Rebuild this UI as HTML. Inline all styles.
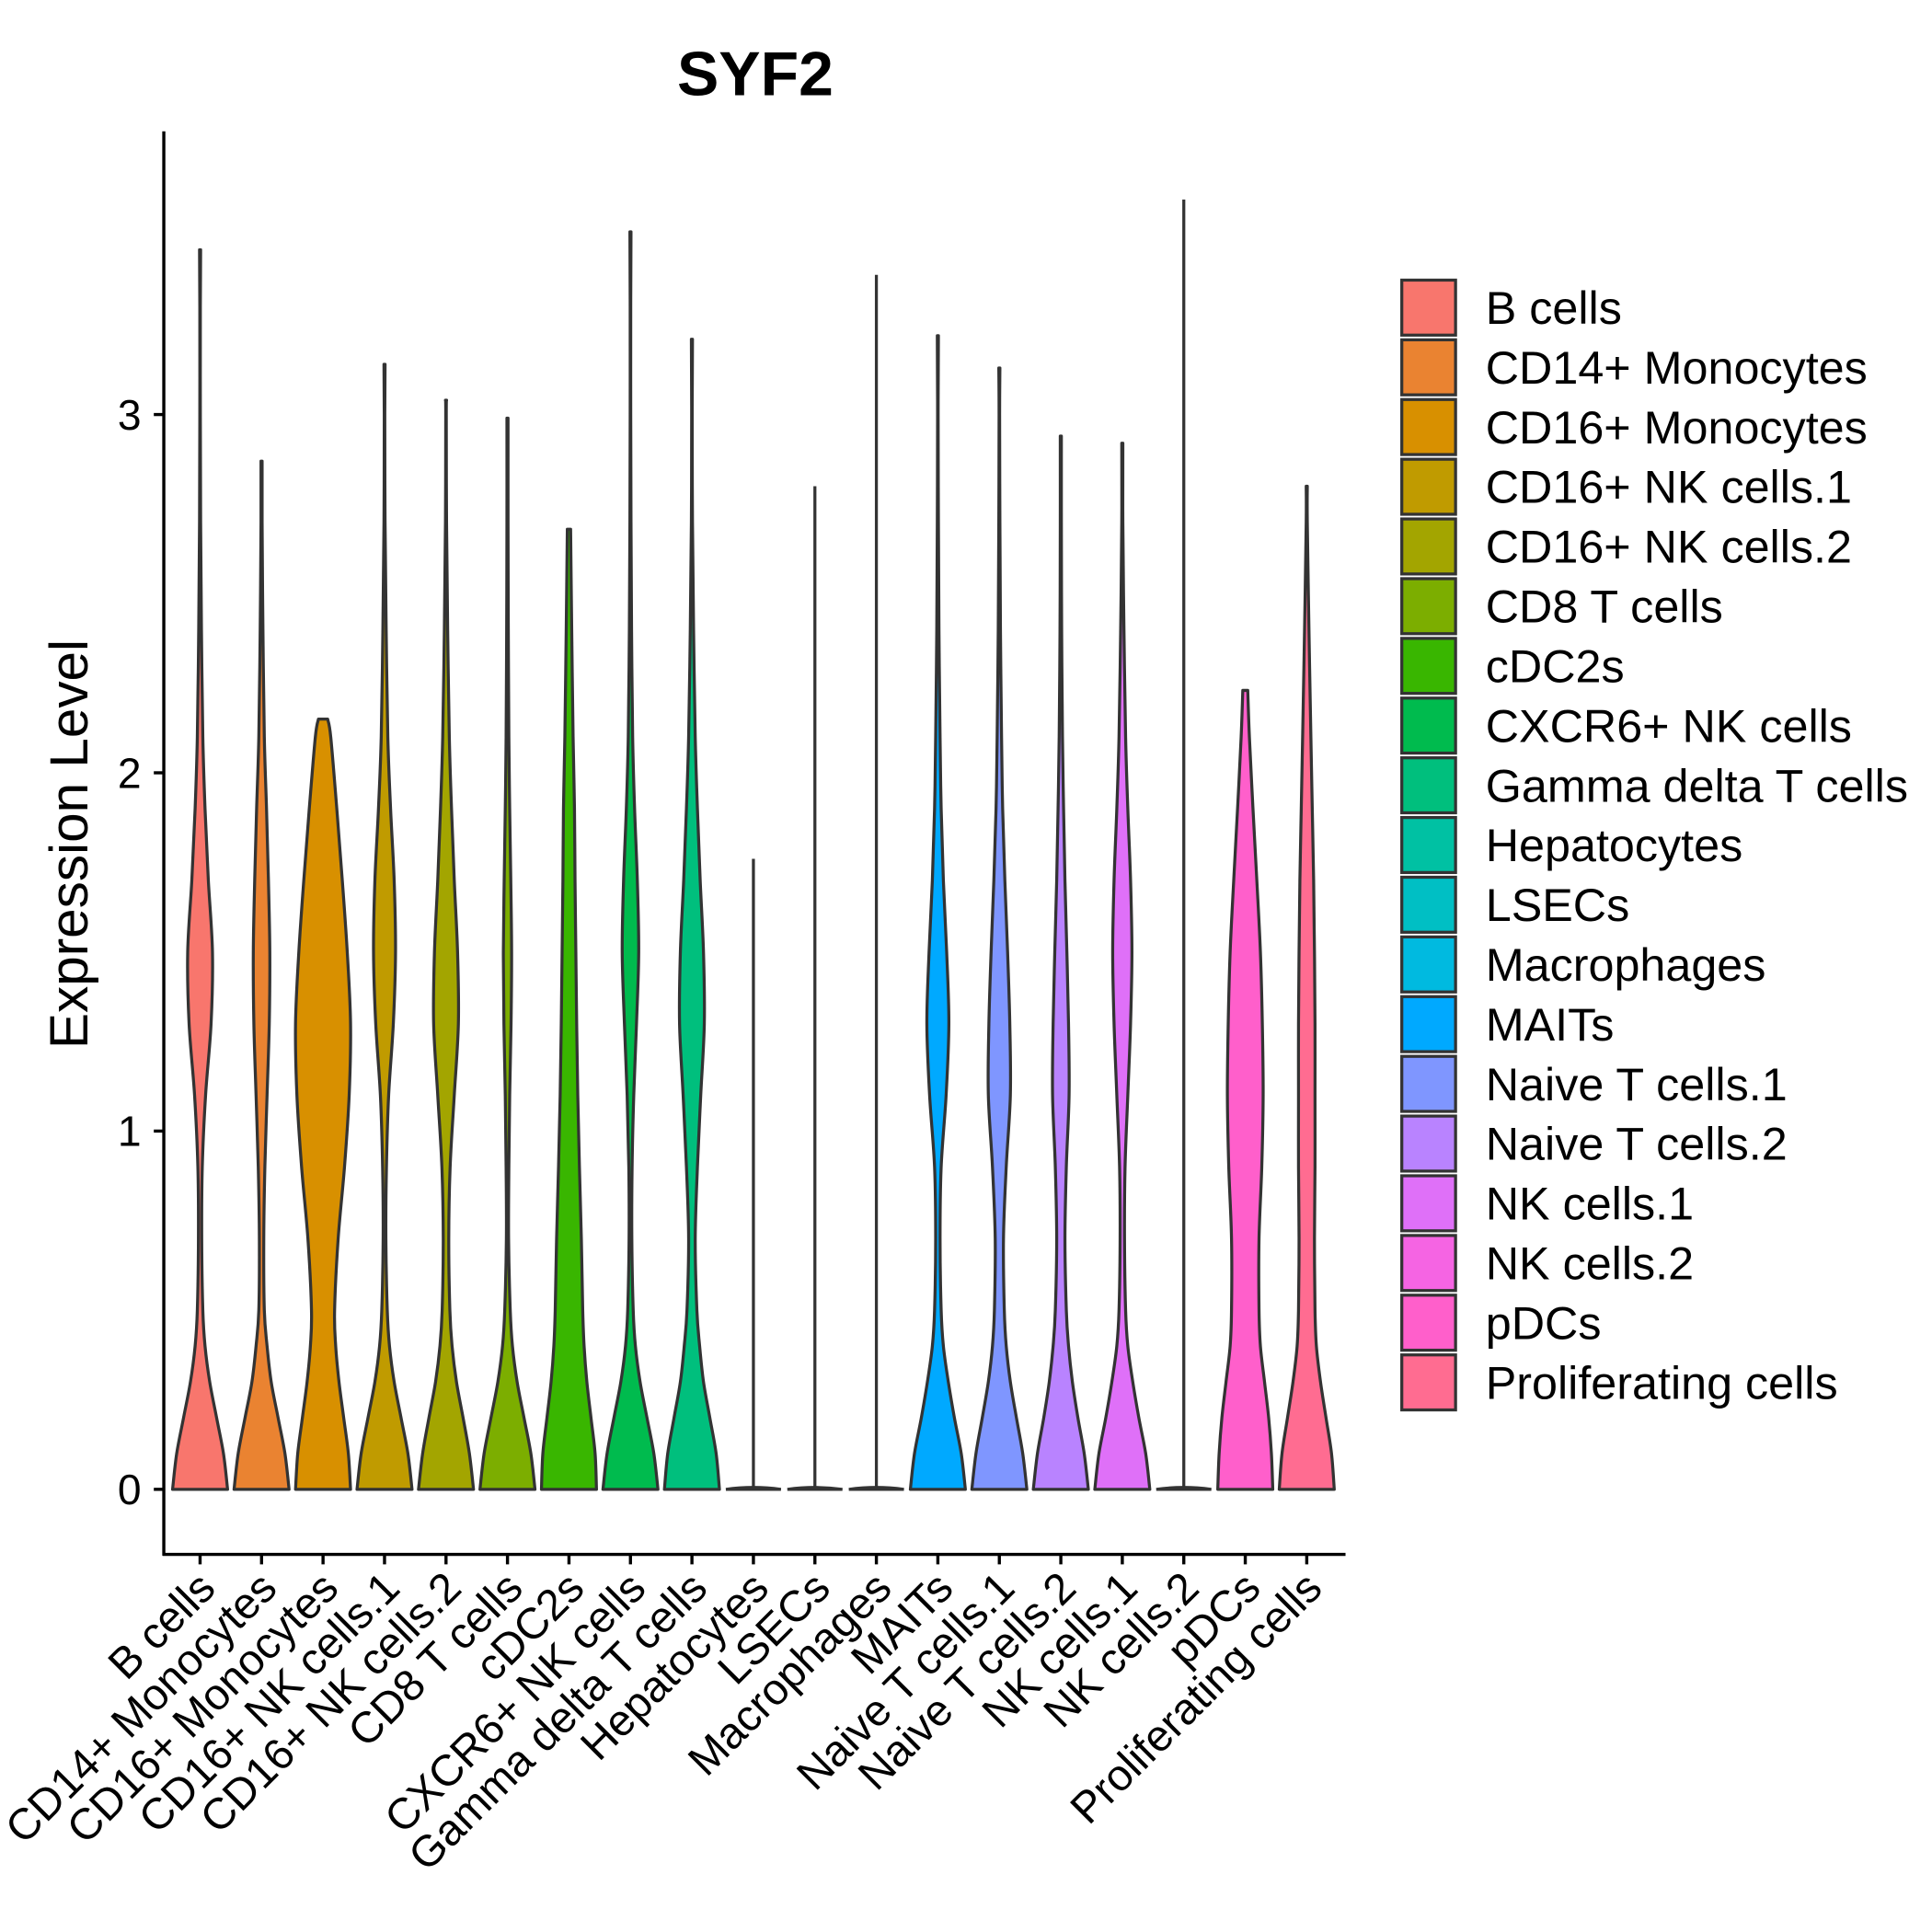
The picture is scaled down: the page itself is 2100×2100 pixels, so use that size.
<!DOCTYPE html>
<html><head><meta charset="utf-8"><style>
html,body{margin:0;padding:0;background:#fff}
svg{display:block}
text{font-family:"Liberation Sans",Arial,sans-serif;fill:#000}
</style></head><body>
<svg id="chart" width="2100" height="2100" viewBox="0 0 1545 1545" xmlns="http://www.w3.org/2000/svg">
<text x="604" y="76" font-size="50" font-weight="bold" text-anchor="middle">SYF2</text>
<text transform="translate(70,675) rotate(-90)" font-size="43" text-anchor="middle">Expression Level</text>
<g id="plot"></g>
<g id="legend"></g>
</svg>
<script>
const categories=["B cells","CD14+ Monocytes","CD16+ Monocytes","CD16+ NK cells.1","CD16+ NK cells.2","CD8 T cells","cDC2s","CXCR6+ NK cells","Gamma delta T cells","Hepatocytes","LSECs","Macrophages","MAITs","Naive T cells.1","Naive T cells.2","NK cells.1","NK cells.2","pDCs","Proliferating cells"];
const colors=["#F8766D","#EA8331","#D89000","#C09B00","#A3A500","#7CAE00","#39B600","#00BB4E","#00BF7D","#00C1A3","#00BFC4","#00BAE0","#00A9FF","#7F96FF","#B983FF","#DF70F8","#F564E3","#FF5FCB","#FF6C91"];
const maxValues=[3.46,2.87,2.15,3.14,3.04,2.99,2.68,3.51,3.21,1.76,2.8,3.39,3.22,3.13,2.94,2.92,3.6,2.23,2.8];
const flat=[0,0,0,0,0,0,0,0,0,1,1,1,0,0,0,0,1,0,0];
const levels=[0,0.1,0.2,0.3,0.4,0.5,0.7,0.9,1.1,1.3,1.5,1.7,1.9,2.1,2.4,2.7,3.0,3.3,3.6];
const densities=[
[1,0.85,0.6,0.35,0.18,0.1,0.06,0.08,0.2,0.4,0.45,0.3,0.18,0.1,0.05,0.02,0.01,0.01,0.01],
[1,0.85,0.6,0.35,0.2,0.1,0.08,0.12,0.2,0.28,0.3,0.25,0.18,0.1,0.05,0.02,0.01,0.01,0.01],
[1,0.92,0.75,0.58,0.46,0.42,0.55,0.78,0.95,1.0,0.88,0.7,0.5,0.28,0.01,0.01,0.01,0.01,0.01],
[1,0.85,0.6,0.35,0.18,0.1,0.05,0.07,0.15,0.32,0.4,0.35,0.22,0.12,0.06,0.02,0.01,0.01,0.01],
[1,0.85,0.62,0.38,0.22,0.14,0.1,0.15,0.3,0.45,0.42,0.3,0.2,0.12,0.06,0.02,0.01,0.01,0.01],
[1,0.85,0.6,0.35,0.18,0.1,0.04,0.05,0.08,0.13,0.15,0.12,0.08,0.05,0.03,0.02,0.01,0.01,0.01],
[1,0.95,0.8,0.65,0.55,0.5,0.45,0.38,0.32,0.28,0.25,0.22,0.2,0.15,0.1,0.01,0.01,0.01,0.01],
[1,0.85,0.6,0.35,0.18,0.1,0.05,0.06,0.12,0.22,0.3,0.25,0.15,0.08,0.04,0.02,0.01,0.01,0.01],
[1,0.88,0.65,0.42,0.28,0.18,0.12,0.2,0.32,0.45,0.42,0.3,0.2,0.12,0.06,0.02,0.01,0.01,0.01],
[1,0.01,0.01,0.01,0.01,0.01,0.01,0.01,0.01,0.01,0.01,0.01,0.01,0.01,0.01,0.01,0.01,0.01,0.01],
[1,0.01,0.01,0.01,0.01,0.01,0.01,0.01,0.01,0.01,0.01,0.01,0.01,0.01,0.01,0.01,0.01,0.01,0.01],
[1,0.01,0.01,0.01,0.01,0.01,0.01,0.01,0.01,0.01,0.01,0.01,0.01,0.01,0.01,0.01,0.01,0.01,0.01],
[1,0.85,0.6,0.38,0.2,0.12,0.08,0.12,0.3,0.4,0.32,0.2,0.12,0.08,0.04,0.02,0.01,0.01,0.01],
[1,0.85,0.62,0.4,0.25,0.18,0.15,0.25,0.4,0.38,0.3,0.2,0.12,0.08,0.04,0.02,0.01,0.01,0.01],
[1,0.85,0.62,0.42,0.28,0.2,0.15,0.2,0.3,0.28,0.22,0.15,0.1,0.06,0.03,0.02,0.01,0.01,0.01],
[1,0.85,0.6,0.38,0.2,0.12,0.08,0.1,0.2,0.3,0.35,0.3,0.2,0.12,0.06,0.02,0.01,0.01,0.01],
[1,0.01,0.01,0.01,0.01,0.01,0.01,0.01,0.01,0.01,0.01,0.01,0.01,0.01,0.01,0.01,0.01,0.01,0.01],
[1,0.95,0.85,0.7,0.55,0.5,0.5,0.6,0.65,0.62,0.55,0.42,0.28,0.15,0.1,0.1,0.1,0.1,0.1],
[1,0.9,0.7,0.5,0.35,0.3,0.28,0.3,0.3,0.3,0.28,0.25,0.2,0.15,0.08,0.02,0.01,0.01,0.01]
];
const yTicks=[0,1,2,3];
const NS="http://www.w3.org/2000/svg";
const plot=document.getElementById('plot');
const x0=160,dx=(1045-160)/18,maxHalf=22;
const xS=i=>x0+i*dx;
const yS=v=>1191-v*286.5;
function mk(t,a,p){const e=document.createElementNS(NS,t);for(const k in a)e.setAttribute(k,a[k]);(p||plot).appendChild(e);return e;}
function smooth(pts){
  let d='M'+pts[0][0].toFixed(2)+','+pts[0][1].toFixed(2);
  for(let i=0;i<pts.length-1;i++){
    const p0=pts[Math.max(i-1,0)],p1=pts[i],p2=pts[i+1],p3=pts[Math.min(i+2,pts.length-1)];
    const c1=[p1[0]+(p2[0]-p0[0])/6,p1[1]+(p2[1]-p0[1])/6];
    const c2=[p2[0]-(p3[0]-p1[0])/6,p2[1]-(p3[1]-p1[1])/6];
    d+='C'+c1.map(v=>v.toFixed(2)).join(',')+' '+c2.map(v=>v.toFixed(2)).join(',')+' '+p2[0].toFixed(2)+','+p2[1].toFixed(2);
  }
  return d;
}
const ya=mk('line',{x1:131,y1:105,x2:131,y2:1244,stroke:'#000','stroke-width':2.5});


const xa=mk('line',{x1:130,y1:1243,x2:1076,y2:1243,stroke:'#000','stroke-width':2.5});


yTicks.forEach(v=>{
  const t=mk('line',{x1:123,x2:131,y1:yS(v),y2:yS(v),stroke:'#000','stroke-width':2.5});
  
  
  const l=mk('text',{x:113,y:yS(v)+12,'font-size':34,'text-anchor':'end'});l.textContent=v;
  
  
});
categories.forEach((c,i)=>{
  const cx=xS(i),mx=maxValues[i],d=densities[i];
  let path;
  if(flat[i]){
    const g=mk('g',{});
    mk('line',{x1:cx,x2:cx,y1:yS(0),y2:yS(mx),stroke:'#333','stroke-width':2.4},g);
    mk('path',{d:`M${cx-maxHalf},${yS(0)}Q${cx},${yS(0)-3} ${cx+maxHalf},${yS(0)}Z`,fill:colors[i],stroke:'#333','stroke-width':2.4},g);
    path=g;
  } else {
    const pts=[];
    for(let k=0;k<levels.length;k++){
      if(levels[k]>=mx){pts.push([mx,Math.max(k>0?d[k-1]*0.6:d[0],0.02)]);break;}
      pts.push([levels[k],d[k]]);
      if(k==levels.length-1)pts.push([mx,0.02]);
    }
    const right=pts.map(p=>[cx+p[1]*maxHalf,yS(p[0])]);
    const left=pts.slice().reverse().map(p=>[cx-p[1]*maxHalf,yS(p[0])]);
    const dd=smooth(right)+'L'+smooth(left).slice(1)+'Z';
    path=mk('path',{d:dd,fill:colors[i],stroke:'#333','stroke-width':2.4,'stroke-linejoin':'round'});
  }
  
  
  const t=mk('line',{x1:cx,x2:cx,y1:1243,y2:1251,stroke:'#000','stroke-width':2.5});
  
  
  const l=mk('text',{transform:`translate(${cx+14},${1272}) rotate(-45)`,'font-size':35,'text-anchor':'end'});l.textContent=c;
  
  
});
const leg=document.getElementById('legend');
categories.forEach((c,i)=>{
  const y=224+i*47.75;
  const r=mk('rect',{x:1121,y:y,width:43,height:44,fill:colors[i],stroke:'#333','stroke-width':2.4},leg);
  
  
  const t=mk('text',{x:1188,y:y+35,'font-size':37},leg);t.textContent=c;
  
  
});
</script>
</body></html>
